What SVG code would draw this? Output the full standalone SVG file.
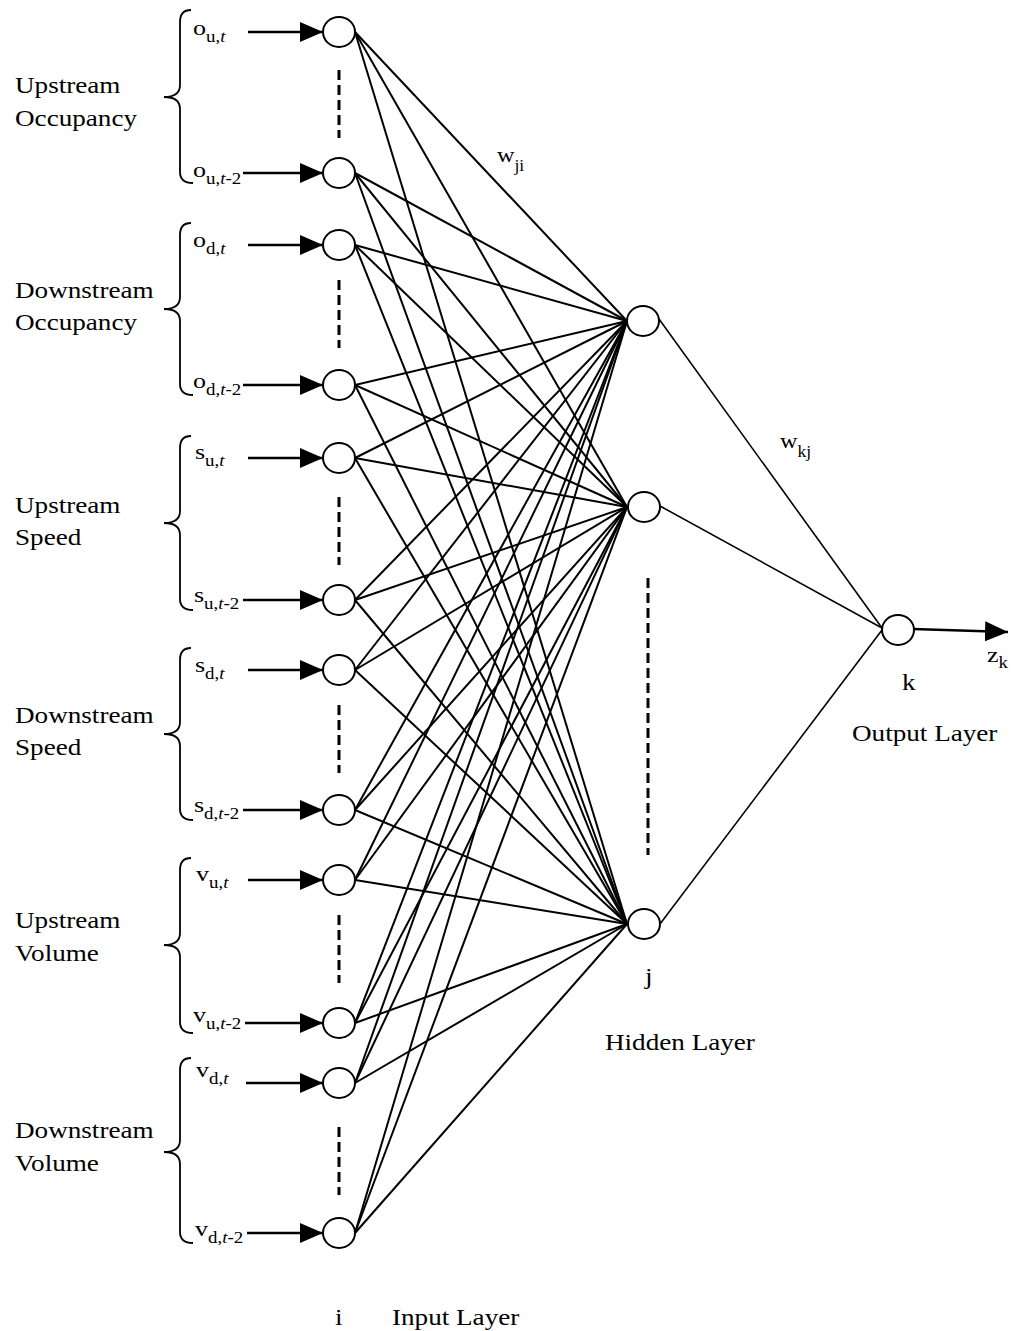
<svg xmlns="http://www.w3.org/2000/svg" width="1015" height="1331" viewBox="0 0 1015 1331">
<defs>
<style>
.node{fill:#fff;stroke:#000;stroke-width:2}
.edge{stroke:#000;stroke-width:2;fill:none}
.edge2{stroke:#000;stroke-width:1.6;fill:none}
.feed{stroke:#000;stroke-width:2.5;fill:none}
.dash{stroke:#000;stroke-width:3;stroke-dasharray:10 5;fill:none}
.brace{fill:none;stroke:#000;stroke-width:1.8}
text{font-family:"Liberation Serif","Times New Roman",serif;fill:#000}
.lbl{font-size:23px}
.var{font-size:22px}
.sub{font-size:16px}
.it{font-style:italic}
</style>
<marker id="head" markerUnits="userSpaceOnUse" markerWidth="24" markerHeight="22" refX="23" refY="10" orient="auto">
<path d="M0,0 L23,10 L0,20 Z" fill="#000"/>
</marker>
</defs>
<rect width="1015" height="1331" fill="#fff"/>

<!-- weighted connections -->
<g id="connectors">
<g class="edge">
<line x1="355" y1="32" x2="627" y2="321"/><line x1="355" y1="32" x2="627" y2="507"/><line x1="355" y1="32" x2="627" y2="924"/>
<line x1="355" y1="173" x2="627" y2="321"/><line x1="355" y1="173" x2="627" y2="507"/><line x1="355" y1="173" x2="627" y2="924"/>
<line x1="355" y1="245" x2="627" y2="321"/><line x1="355" y1="245" x2="627" y2="507"/><line x1="355" y1="245" x2="627" y2="924"/>
<line x1="355" y1="385" x2="627" y2="321"/><line x1="355" y1="385" x2="627" y2="507"/><line x1="355" y1="385" x2="627" y2="924"/>
<line x1="355" y1="458" x2="627" y2="321"/><line x1="355" y1="458" x2="627" y2="507"/><line x1="355" y1="458" x2="627" y2="924"/>
<line x1="355" y1="600" x2="627" y2="321"/><line x1="355" y1="600" x2="627" y2="507"/><line x1="355" y1="600" x2="627" y2="924"/>
<line x1="355" y1="670" x2="627" y2="321"/><line x1="355" y1="670" x2="627" y2="507"/><line x1="355" y1="670" x2="627" y2="924"/>
<line x1="355" y1="810" x2="627" y2="321"/><line x1="355" y1="810" x2="627" y2="507"/><line x1="355" y1="810" x2="627" y2="924"/>
<line x1="355" y1="880" x2="627" y2="321"/><line x1="355" y1="880" x2="627" y2="507"/><line x1="355" y1="880" x2="627" y2="924"/>
<line x1="355" y1="1023" x2="627" y2="321"/><line x1="355" y1="1023" x2="627" y2="507"/><line x1="355" y1="1023" x2="627" y2="924"/>
<line x1="355" y1="1083" x2="627" y2="321"/><line x1="355" y1="1083" x2="627" y2="507"/><line x1="355" y1="1083" x2="627" y2="924"/>
<line x1="355" y1="1233" x2="627" y2="321"/><line x1="355" y1="1233" x2="627" y2="507"/><line x1="355" y1="1233" x2="627" y2="924"/>
</g>
<g class="edge2">
<line x1="659" y1="319" x2="882" y2="628"/>
<line x1="660" y1="506" x2="882" y2="628"/>
<line x1="660" y1="924" x2="882" y2="630"/>
</g>
<!-- input feeds -->
<g class="feed" marker-end="url(#head)">
<line x1="248" y1="32" x2="323" y2="32"/>
<line x1="243" y1="173" x2="323" y2="173"/>
<line x1="248" y1="245" x2="323" y2="245"/>
<line x1="243" y1="385" x2="323" y2="385"/>
<line x1="248" y1="458" x2="323" y2="458"/>
<line x1="243" y1="600" x2="323" y2="600"/>
<line x1="248" y1="670" x2="323" y2="670"/>
<line x1="243" y1="810" x2="323" y2="810"/>
<line x1="248" y1="880" x2="323" y2="880"/>
<line x1="245" y1="1023" x2="323" y2="1023"/>
<line x1="246" y1="1083" x2="323" y2="1083"/>
<line x1="247" y1="1233" x2="323" y2="1233"/>
</g>
<!-- output -->
<line class="feed" x1="913" y1="629" x2="1008" y2="632" marker-end="url(#head)"/>
</g>

<!-- elided units -->
<g id="ellipses">
<line class="dash" x1="339" y1="70" x2="339" y2="138"/>
<line class="dash" x1="339" y1="280" x2="339" y2="348"/>
<line class="dash" x1="339" y1="497" x2="339" y2="565"/>
<line class="dash" x1="339" y1="705" x2="339" y2="773"/>
<line class="dash" x1="339" y1="915" x2="339" y2="983"/>
<line class="dash" x1="339" y1="1127" x2="339" y2="1195"/>
<line class="dash" x1="648" y1="578" x2="648" y2="855"/>
</g>

<!-- input groups -->
<g id="group-upstream-occupancy">
<path class="brace" d="M191 10 Q180 10 180 22 L180 85 Q180 97 164 97 Q180 97 180 109 L180 172 Q180 183 193 183"/>
<text class="lbl" transform="translate(15 93) scale(1.18 1)">Upstream</text>
<text class="lbl" transform="translate(15 126) scale(1.18 1)">Occupancy</text>
</g>
<g id="group-downstream-occupancy">
<path class="brace" d="M191 223 Q180 223 180 235 L180 297 Q180 309 164 309 Q180 309 180 321 L180 384 Q180 395 193 395"/>
<text class="lbl" transform="translate(15 298) scale(1.18 1)">Downstream</text>
<text class="lbl" transform="translate(15 330) scale(1.18 1)">Occupancy</text>
</g>
<g id="group-upstream-speed">
<path class="brace" d="M191 436 Q180 436 180 448 L180 511 Q180 523 164 523 Q180 523 180 535 L180 599 Q180 610 193 610"/>
<text class="lbl" transform="translate(15 513) scale(1.18 1)">Upstream</text>
<text class="lbl" transform="translate(15 545) scale(1.18 1)">Speed</text>
</g>
<g id="group-downstream-speed">
<path class="brace" d="M191 648 Q180 648 180 660 L180 722 Q180 734 164 734 Q180 734 180 746 L180 809 Q180 820 193 820"/>
<text class="lbl" transform="translate(15 723) scale(1.18 1)">Downstream</text>
<text class="lbl" transform="translate(15 755) scale(1.18 1)">Speed</text>
</g>
<g id="group-upstream-volume">
<path class="brace" d="M191 858 Q180 858 180 870 L180 933 Q180 945 164 945 Q180 945 180 957 L180 1022 Q180 1033 193 1033"/>
<text class="lbl" transform="translate(15 928) scale(1.18 1)">Upstream</text>
<text class="lbl" transform="translate(15 961) scale(1.18 1)">Volume</text>
</g>
<g id="group-downstream-volume">
<path class="brace" d="M191 1058 Q180 1058 180 1070 L180 1140 Q180 1152 164 1152 Q180 1152 180 1164 L180 1232 Q180 1243 193 1243"/>
<text class="lbl" transform="translate(15 1138) scale(1.18 1)">Downstream</text>
<text class="lbl" transform="translate(15 1171) scale(1.18 1)">Volume</text>
</g>

<!-- input layer -->
<g id="in-o-u-t"><ellipse class="node" cx="339" cy="32" rx="16" ry="15"/>
<text class="var" transform="translate(193 35) scale(1.18 1)">o<tspan class="sub" dy="7">u,<tspan class="it">t</tspan></tspan></text></g>
<g id="in-o-u-t2"><ellipse class="node" cx="339" cy="173" rx="16" ry="15"/>
<text class="var" transform="translate(193 177) scale(1.18 1)">o<tspan class="sub" dy="7">u,<tspan class="it">t</tspan>-2</tspan></text></g>
<g id="in-o-d-t"><ellipse class="node" cx="339" cy="245" rx="16" ry="15"/>
<text class="var" transform="translate(193 247) scale(1.18 1)">o<tspan class="sub" dy="7">d,<tspan class="it">t</tspan></tspan></text></g>
<g id="in-o-d-t2"><ellipse class="node" cx="339" cy="385" rx="16" ry="15"/>
<text class="var" transform="translate(193 388) scale(1.18 1)">o<tspan class="sub" dy="7">d,<tspan class="it">t</tspan>-2</tspan></text></g>
<g id="in-s-u-t"><ellipse class="node" cx="339" cy="458" rx="16" ry="15"/>
<text class="var" transform="translate(195 459) scale(1.18 1)">s<tspan class="sub" dy="7">u,<tspan class="it">t</tspan></tspan></text></g>
<g id="in-s-u-t2"><ellipse class="node" cx="339" cy="600" rx="16" ry="15"/>
<text class="var" transform="translate(194 602) scale(1.18 1)">s<tspan class="sub" dy="7">u,<tspan class="it">t</tspan>-2</tspan></text></g>
<g id="in-s-d-t"><ellipse class="node" cx="339" cy="670" rx="16" ry="15"/>
<text class="var" transform="translate(195 672) scale(1.18 1)">s<tspan class="sub" dy="7">d,<tspan class="it">t</tspan></tspan></text></g>
<g id="in-s-d-t2"><ellipse class="node" cx="339" cy="810" rx="16" ry="15"/>
<text class="var" transform="translate(194 812) scale(1.18 1)">s<tspan class="sub" dy="7">d,<tspan class="it">t</tspan>-2</tspan></text></g>
<g id="in-v-u-t"><ellipse class="node" cx="339" cy="880" rx="16" ry="15"/>
<text class="var" transform="translate(196 881) scale(1.18 1)">v<tspan class="sub" dy="7">u,<tspan class="it">t</tspan></tspan></text></g>
<g id="in-v-u-t2"><ellipse class="node" cx="339" cy="1023" rx="16" ry="15"/>
<text class="var" transform="translate(193 1022) scale(1.18 1)">v<tspan class="sub" dy="7">u,<tspan class="it">t</tspan>-2</tspan></text></g>
<g id="in-v-d-t"><ellipse class="node" cx="339" cy="1083" rx="16" ry="15"/>
<text class="var" transform="translate(196 1077) scale(1.18 1)">v<tspan class="sub" dy="7">d,<tspan class="it">t</tspan></tspan></text></g>
<g id="in-v-d-t2"><ellipse class="node" cx="339" cy="1233" rx="16" ry="15"/>
<text class="var" transform="translate(195 1236) scale(1.18 1)">v<tspan class="sub" dy="7">d,<tspan class="it">t</tspan>-2</tspan></text></g>

<!-- hidden layer -->
<g id="hidden-1"><ellipse class="node" cx="643" cy="321" rx="16" ry="15"/></g>
<g id="hidden-2"><ellipse class="node" cx="644" cy="507" rx="16" ry="15"/></g>
<g id="hidden-j"><ellipse class="node" cx="644" cy="924" rx="16" ry="15"/>
<text class="lbl" transform="translate(645 984) scale(1.18 1)">j</text></g>

<!-- output layer -->
<g id="output-k"><ellipse class="node" cx="898" cy="630" rx="16" ry="15"/>
<text class="lbl" transform="translate(902 690) scale(1.18 1)">k</text>
<text class="var" transform="translate(987 662) scale(1.18 1)">z<tspan class="sub" dy="6">k</tspan></text></g>

<!-- weight and layer labels -->
<g id="labels">
<text class="var" transform="translate(497 162) scale(1.1 1)">w<tspan class="sub" dy="9">ji</tspan></text>
<text class="var" transform="translate(780 448) scale(1.1 1)">w<tspan class="sub" dy="9">kj</tspan></text>
<text class="lbl" transform="translate(605 1050) scale(1.18 1)">Hidden Layer</text>
<text class="lbl" transform="translate(852 741) scale(1.18 1)">Output Layer</text>
<text class="lbl" transform="translate(335 1325) scale(1.18 1)">i</text>
<text class="lbl" transform="translate(392 1325) scale(1.18 1)">Input Layer</text>
</g>
</svg>
